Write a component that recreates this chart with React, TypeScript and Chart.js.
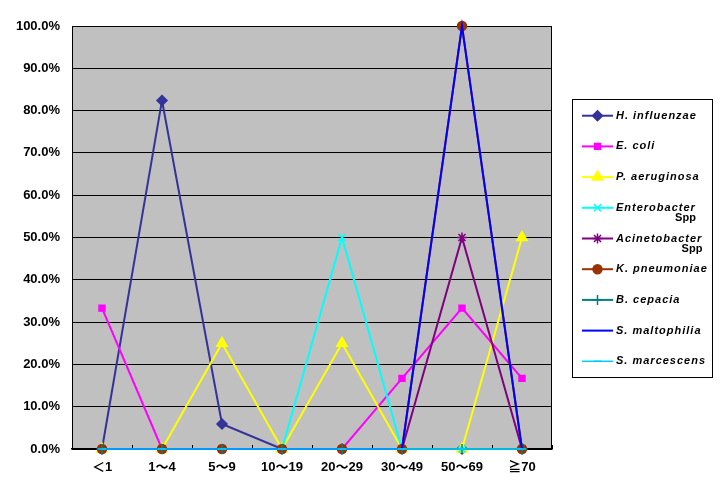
import React, { useEffect, useRef } from "react";
import { Chart, registerables } from "chart.js";
import { drawPoint } from "chart.js/helpers";

Chart.register(...registerables);

const categories = ["＜1", "1～4", "5～9", "10～19", "20～29", "30～49", "50～69", "≧70"];
const yTicks = [0, 10, 20, 30, 40, 50, 60, 70, 80, 90, 100];

const hInfluenzae = [0, 82.4, 5.9, 0, 0, 0, 0, 0];
const eColi = [33.3, 0, 0, 0, 0, 16.7, 33.3, 16.7];
const pAeruginosa = [0, 0, 25, 0, 25, 0, 0, 50];
const enterobacter = [0, 0, 0, 0, 50, 0, 0, 0];
const acinetobacter = [0, 0, 0, 0, 0, 0, 50, 0];
const kPneumoniae = [0, 0, 0, 0, 0, 0, 100, 0];
const bCepacia = [0, 0, 0, 0, 0, 0, 0, 0];
const sMaltophilia = [0, 0, 0, 0, 0, 0, 100, 0];
const sMarcescens = [0, 0, 0, 0, 0, 0, 0, 0];

const seriesNames = [
  "H. influenzae",
  "E. coli",
  "P. aeruginosa",
  "Enterobacter\nSpp",
  "Acinetobacter\nSpp",
  "K. pneumoniae",
  "B. cepacia",
  "S. maltophilia",
  "S. marcescens",
];

const FONT_FAMILY = "'Liberation Sans', 'Noto Sans CJK JP', sans-serif";

export default function App() {
  const ref = useRef<HTMLCanvasElement | null>(null);

  useEffect(() => {
    document.body.style.margin = "0";
    const canvas = ref.current;
    if (!canvas) return;

    const styles = [
      { color: "#333399", pointStyle: "rectRot", radius: 5, width: 2 },
      { color: "#ff00ff", pointStyle: "rect", radius: 4.2, width: 2 },
      { color: "#ffff00", pointStyle: "triangle", radius: 6, width: 2 },
      { color: "#00ffff", pointStyle: "crossRot", radius: 5, width: 2 },
      { color: "#800080", pointStyle: "star", radius: 5, width: 2 },
      { color: "#993300", pointStyle: "circle", radius: 4.5, width: 2 },
      { color: "#008080", pointStyle: "cross", radius: 5, width: 2 },
      { color: "#0000ff", pointStyle: "circle", radius: 0, width: 2 },
      { color: "#00ccff", pointStyle: "line", radius: 4, width: 1.5 },
    ];
    const values = [hInfluenzae, eColi, pAeruginosa, enterobacter, acinetobacter, kPneumoniae, bCepacia, sMaltophilia, sMarcescens];
    const n = values.length;

    const datasets = values.map((data, i) => ({
      label: seriesNames[i],
      data,
      borderColor: styles[i].color,
      backgroundColor: styles[i].color,
      borderWidth: styles[i].width,
      pointStyle: styles[i].pointStyle as any,
      pointRadius: styles[i].radius,
      pointHoverRadius: styles[i].radius,
      pointBorderWidth: 1.5,
      pointBackgroundColor: styles[i].color,
      pointBorderColor: styles[i].color,
      tension: 0,
      clip: false as any,
      order: n - i,
    }));

    const bgPlugin = {
      id: "plotBg",
      beforeDraw(chart: any) {
        const { ctx, chartArea } = chart;
        ctx.save();
        ctx.fillStyle = "#c0c0c0";
        ctx.fillRect(chartArea.left, chartArea.top, chartArea.right - chartArea.left, chartArea.bottom - chartArea.top);
        ctx.restore();
      },
      beforeDatasetsDraw(chart: any) {
        const { ctx, chartArea } = chart;
        const xs = chart.scales.x;
        ctx.save();
        ctx.strokeStyle = "#000";
        ctx.lineWidth = 1;
        ctx.strokeRect(chartArea.left + 0.5, chartArea.top + 0.5, chartArea.right - chartArea.left - 1, chartArea.bottom - chartArea.top);
        ctx.beginPath();
        for (let i = 0; i <= categories.length; i++) {
          const x = Math.round(xs.getPixelForValue(i - 0.5)) + 0.5;
          ctx.moveTo(x, chartArea.bottom);
          ctx.lineTo(x, chartArea.bottom - 4);
        }
        ctx.stroke();
        ctx.restore();
      },
    };

    const legendPlugin = {
      id: "customLegend",
      afterDraw(chart: any) {
        const { ctx } = chart;
        const boxL = 572, boxT = 99, boxW = 140, boxH = 278;
        ctx.save();
        ctx.strokeStyle = "#000";
        ctx.lineWidth = 1;
        ctx.strokeRect(boxL + 0.5, boxT + 0.5, boxW, boxH);
        const startY = 115.7;
        const step = 30.7;
        chart.data.datasets.forEach((ds: any, i: number) => {
          const y = startY + i * step;
          ctx.strokeStyle = ds.borderColor;
          ctx.fillStyle = ds.borderColor;
          ctx.lineWidth = ds.borderWidth;
          ctx.beginPath();
          ctx.moveTo(582, y);
          ctx.lineTo(613, y);
          ctx.stroke();
          if (ds.pointRadius > 0) {
            ctx.lineWidth = ds.pointBorderWidth;
            drawPoint(ctx, { pointStyle: ds.pointStyle, radius: ds.pointRadius, rotation: 0, borderWidth: ds.pointBorderWidth } as any, 597.5, y);
          }
          const parts = String(ds.label).split("\n");
          ctx.fillStyle = "#000";
          ctx.font = "italic bold 11px " + FONT_FAMILY;
          (ctx as any).letterSpacing = "1px";
          ctx.textAlign = "left";
          ctx.textBaseline = "middle";
          ctx.fillText(parts[0], 616, y);
          if (parts[1]) {
            const w = ctx.measureText(parts[0]).width;
            ctx.font = "bold 11px " + FONT_FAMILY;
            (ctx as any).letterSpacing = "0px";
            ctx.textAlign = "right";
            ctx.fillText(parts[1], 616 + w, y + 10.5);
          }
          (ctx as any).letterSpacing = "0px";
        });
        ctx.restore();
      },
    };

    const chart = new Chart(canvas, {
      type: "line",
      data: { labels: categories, datasets: datasets as any },
      options: {
        responsive: false,
        animation: false,
        devicePixelRatio: 1,
        layout: { padding: { left: 0, right: 176, top: 26, bottom: 0 } },
        plugins: { legend: { display: false }, tooltip: { enabled: false } },
        scales: {
          x: {
            offset: true,
            grid: { display: false, drawTicks: false },
            border: { display: true, color: "#000", width: 1.5 },
            ticks: {
              color: "#000",
              font: { family: FONT_FAMILY, size: 13, weight: "bold" },
              padding: 11,
              maxRotation: 0,
              autoSkip: false,
            },
            afterFit(scale: any) {
              scale.height = 44;
            },
          },
          y: {
            min: 0,
            max: 100,
            afterBuildTicks(scale: any) {
              scale.ticks = yTicks.map((v) => ({ value: v }));
            },
            grid: { color: "#000", lineWidth: 1, drawTicks: false },
            border: { display: true, color: "#000", width: 1 },
            ticks: {
              color: "#000",
              font: { family: FONT_FAMILY, size: 13, weight: "bold" },
              padding: 12,
              callback: (v: any) => Number(v).toFixed(1) + "%",
            },
            afterFit(scale: any) {
              scale.width = 72;
            },
          },
        },
      },
      plugins: [bgPlugin, legendPlugin],
    });

    return () => chart.destroy();
  }, []);

  return (
    <div style={{ position: "absolute", left: 0, top: 0, width: 728, height: 493 }}>
      <canvas ref={ref} width={728} height={493} style={{ width: 728, height: 493 }} />
    </div>
  );
}
